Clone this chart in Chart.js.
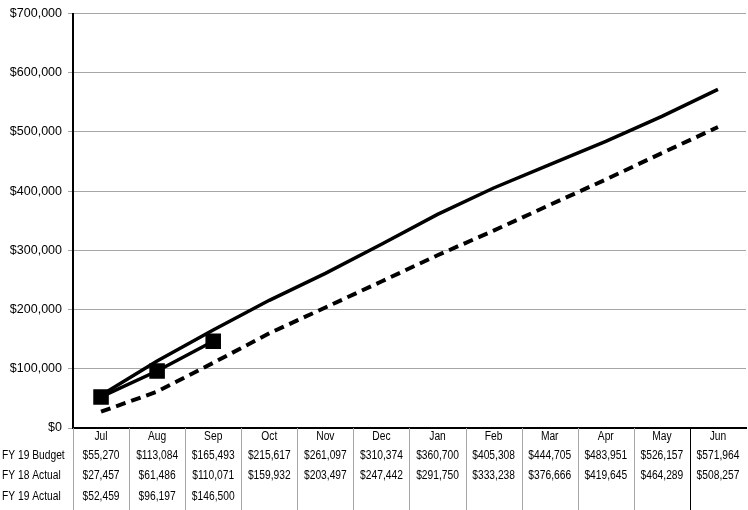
<!DOCTYPE html>
<html>
<head>
<meta charset="utf-8">
<script src="https://cdn.jsdelivr.net/npm/chart.js@4.4.1/dist/chart.umd.min.js"></script>
<style>
  html, body { margin: 0; padding: 0; background: #fff; overflow: hidden; }
  #wrap { width: 748px; height: 510px; overflow: hidden; position: relative; }
  canvas { display: block; }
</style>
</head>
<body>
<div id="wrap"><canvas id="chart" width="757" height="510"></canvas></div>
<script>
// Cumulative revenue by month
const months = ['Jul', 'Aug', 'Sep', 'Oct', 'Nov', 'Dec', 'Jan', 'Feb', 'Mar', 'Apr', 'May', 'Jun'];
const fy19Budget = [55270, 113084, 165493, 215617, 261097, 310374, 360700, 405308, 444705, 483951, 526157, 571964];
const fy18Actual = [27457, 61486, 110071, 159932, 203497, 247442, 291750, 333238, 376666, 419645, 464289, 508257];
const fy19Actual = [52459, 96197, 146500];
const seriesNames = ['FY 19 Budget', 'FY 18 Actual', 'FY 19 Actual'];
const yTicks = [0, 100000, 200000, 300000, 400000, 500000, 600000, 700000];

const money = v => '$' + Math.round(v).toLocaleString('en-US');
const tableFont = '12.5px "Liberation Sans", Arial, sans-serif';
const squeeze = 0.82; // condensed look for the table text
const padded = arr => months.map((_, i) => (i < arr.length ? arr[i] : null));

function narrowText(ctx, text, x, y, align) {
  ctx.save();
  ctx.translate(x, y);
  ctx.scale(squeeze, 1);
  ctx.textAlign = align;
  ctx.fillText(text, 0, 0);
  ctx.restore();
}

// Data table drawn under the x axis, one column per category
const dataTable = {
  id: 'dataTable',
  afterDraw(chart) {
    const ctx = chart.ctx;
    const x = chart.scales.x;
    const area = chart.chartArea;
    const top = area.bottom;
    const bottom = chart.height;
    const rows = [fy19Budget, fy18Actual, fy19Actual];
    const rowY = [456, 476, 497];
    const headY = 437;
    const half = (x.getPixelForValue(1) - x.getPixelForValue(0)) / 2;

    ctx.save();
    ctx.lineWidth = 1;
    for (let i = 0; i < months.length; i++) {
      const left = Math.round(x.getPixelForValue(i) - half) + 0.5;
      ctx.strokeStyle = i === months.length - 1 ? '#000' : '#a6a6a6';
      ctx.beginPath();
      ctx.moveTo(left, top);
      ctx.lineTo(left, bottom);
      ctx.stroke();
    }
    ctx.font = tableFont;
    ctx.fillStyle = '#000';
    ctx.textBaseline = 'middle';
    months.forEach((m, i) => narrowText(ctx, m, x.getPixelForValue(i), headY, 'center'));
    rows.forEach((vals, r) => {
      narrowText(ctx, seriesNames[r], 2, rowY[r], 'left');
      vals.forEach((v, i) => narrowText(ctx, money(v), x.getPixelForValue(i), rowY[r], 'center'));
    });
    ctx.restore();
  }
};

new Chart(document.getElementById('chart'), {
  type: 'line',
  data: {
    labels: months,
    datasets: [
      {
        label: seriesNames[0],
        data: fy19Budget,
        borderColor: '#000',
        borderWidth: 3.5,
        pointRadius: 0,
        tension: 0,
        order: 2
      },
      {
        label: seriesNames[1],
        data: fy18Actual,
        borderColor: '#000',
        borderWidth: 4,
        borderDash: [10, 6],
        pointRadius: 0,
        tension: 0,
        order: 3
      },
      {
        label: seriesNames[2],
        data: padded(fy19Actual),
        borderColor: '#000',
        borderWidth: 3.5,
        pointStyle: 'rect',
        pointRadius: 11,
        pointBackgroundColor: '#000',
        pointBorderColor: '#000',
        pointBorderWidth: 0,
        tension: 0,
        spanGaps: false,
        order: 1
      }
    ]
  },
  options: {
    responsive: false,
    animation: false,
    devicePixelRatio: 1,
    layout: { padding: { top: 10, right: 0, left: 0, bottom: 0 } },
    plugins: { legend: { display: false }, tooltip: { enabled: false } },
    scales: {
      x: {
        type: 'category',
        offset: true,
        grid: { display: false, drawTicks: false },
        ticks: { display: false },
        border: { display: true, color: '#000', width: 2 },
        afterFit(scale) { scale.height = 82; }
      },
      y: {
        min: 0,
        max: 700000,
        afterBuildTicks(scale) { scale.ticks = yTicks.map(v => ({ value: v })); },
        grid: { color: '#a6a6a6', lineWidth: 1, tickLength: 5, tickColor: '#a6a6a6' },
        border: { display: true, color: '#000', width: 2 },
        ticks: {
          padding: 6,
          color: '#000',
          font: { family: '"Liberation Sans", Arial, sans-serif', size: 12.5 },
          callback: v => money(v)
        },
        afterFit(scale) { scale.width = 73; }
      }
    }
  },
  plugins: [dataTable]
});
</script>
</body>
</html>
